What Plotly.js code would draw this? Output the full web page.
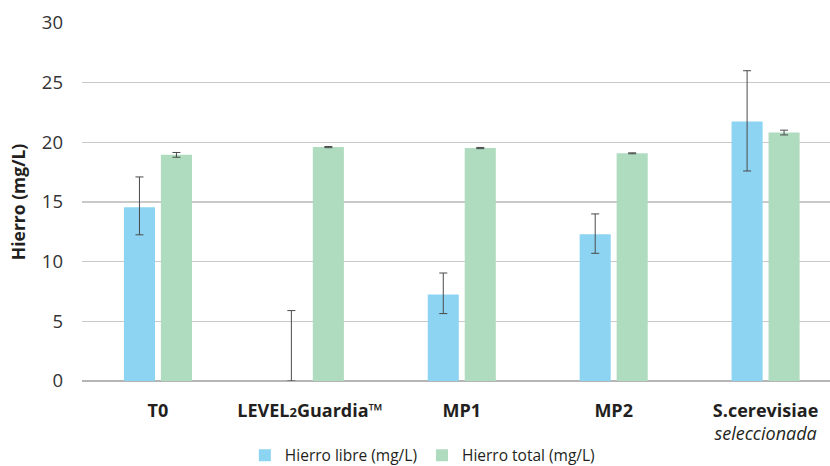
<!DOCTYPE html>
<html>
<head>
<meta charset="utf-8">
<script src="https://cdn.plot.ly/plotly-3.0.1.min.js"></script>
<style>html,body{margin:0;padding:0;background:#fff;}#chart{width:830px;height:466px;}</style>
</head>
<body>
<div id="chart"></div>
<script>
var categories = ["T0", "LEVEL2Guardia™", "MP1", "MP2", "S.cerevisiae seleccionada"];
var tickLabels = ["<b>T0</b>", "<b>LEVEL<span style=\"font-size:13px\">2</span>Guardia™</b>", "<b>MP1</b>", "<b>MP2</b>", "<b>S.cerevisiae</b><br><i>seleccionada</i>"];
var seriesNames = ["Hierro libre (mg/L)", "Hierro total (mg/L)"];
var hierroLibre = [14.55, 0, 7.25, 12.3, 21.75];
var hierroLibrePlus = [2.55, 5.9, 1.8, 1.7, 4.25];
var hierroLibreMinus = [2.3, 0, 1.6, 1.6, 4.15];
var hierroTotal = [18.95, 19.6, 19.52, 19.08, 20.82];
var hierroTotalErr = [0.2, 0.05, 0.05, 0.04, 0.2];

var errStyle = {color: "#4a4a4a", thickness: 1, width: 4};

var traces = [
  {
    type: "bar", name: seriesNames[0], x: categories, y: hierroLibre,
    marker: {color: "#8dd4f2"},
    error_y: Object.assign({type: "data", array: hierroLibrePlus, arrayminus: hierroLibreMinus, symmetric: false, visible: true}, errStyle)
  },
  {
    type: "bar", name: seriesNames[1], x: categories, y: hierroTotal,
    marker: {color: "#afdbbf"},
    error_y: Object.assign({type: "data", array: hierroTotalErr, visible: true}, errStyle)
  }
];

var font = "'Open Sans', 'Noto Sans', sans-serif";
var layout = {
  width: 830, height: 466,
  margin: {l: 82, r: 0, t: 23, b: 85, pad: 0},
  paper_bgcolor: "#fff", plot_bgcolor: "#fff",
  font: {family: font, color: "#231f20", size: 17},
  barmode: "group", bargap: 0.513, bargroupgap: 0.16,
  showlegend: true,
  legend: {
    orientation: "h", x: 0.455, xanchor: "center", xref: "paper",
    y: 0.022, yanchor: "middle", yref: "container",
    font: {family: font, size: 15.5, color: "#231f20"}, itemwidth: 30, tracegroupgap: 0
  },
  xaxis: {
    type: "category", range: [-0.5, 4.424],
    tickvals: categories, ticktext: tickLabels,
    tickfont: {family: font, size: 18, color: "#231f20"},
    showgrid: false, zeroline: false, showline: false, ticks: "",
    ticklabelstandoff: 17, automargin: false
  },
  yaxis: {
    range: [0, 30], dtick: 5, tick0: 0,
    tickfont: {family: font, size: 18.5, color: "#333"},
    showgrid: true, gridcolor: "#c9c9c9", gridwidth: 1.3,
    zeroline: true, zerolinecolor: "#b5b5b5", zerolinewidth: 1.3,
    showline: false, ticks: "", ticklabelstandoff: 18,
    title: {text: "<b>Hierro (mg/L)</b>", font: {family: font, size: 17.5, color: "#231f20"}, standoff: 11},
    automargin: false
  }
};

Plotly.newPlot("chart", traces, layout, {displayModeBar: false, staticPlot: true});
</script>
</body>
</html>
